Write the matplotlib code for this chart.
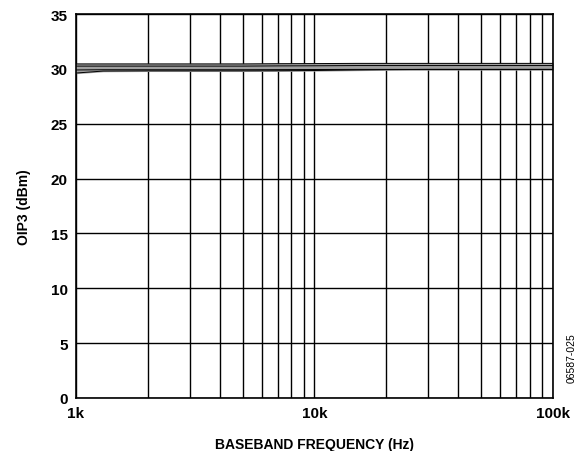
import numpy as np
import matplotlib.pyplot as plt
from matplotlib.ticker import LogLocator, NullFormatter

plt.rcParams['font.family'] = ['Liberation Sans', 'DejaVu Sans']

# Data
freq = [1e3, 1.3e3, 2e3, 3e3, 5e3, 7e3, 10e3, 15e3, 20e3, 30e3, 50e3, 100e3]
oip3_a = [30.45, 30.45, 30.45, 30.45, 30.45, 30.47, 30.48, 30.5, 30.5, 30.5, 30.5, 30.5]
oip3_b = [30.25, 30.25, 30.25, 30.25, 30.25, 30.27, 30.28, 30.3, 30.3, 30.3, 30.3, 30.3]
oip3_c = [29.9, 29.92, 29.92, 29.92, 29.92, 29.93, 29.94, 29.95, 29.95, 29.95, 29.95, 29.95]
oip3_d = [29.62, 29.8, 29.82, 29.82, 29.82, 29.83, 29.85, 29.9, 29.93, 29.95, 29.95, 29.95]

yticks = [0, 5, 10, 15, 20, 25, 30, 35]
xticks = [1e3, 1e4, 1e5]
xticklabels = ['1k', '10k', '100k']

fig = plt.figure(figsize=(5.82, 4.52), dpi=100)
ax = fig.add_axes([0.1306, 0.1173, 0.8194, 0.8495])

curves = np.array([oip3_a, oip3_b, oip3_c, oip3_d])
ax.fill_between(freq, curves.min(axis=0), curves.max(axis=0), color='#a0a0a0', zorder=2)
for c in curves:
    ax.plot(freq, c, color='black', lw=0.7, zorder=3)

ax.set_xscale('log')
ax.set_xlim(1e3, 1e5)
ax.set_ylim(0, 35)
ax.set_xticks(xticks)
ax.set_xticklabels(xticklabels)
ax.xaxis.set_minor_locator(LogLocator(base=10, subs=np.arange(2, 10)))
ax.xaxis.set_minor_formatter(NullFormatter())
ax.set_yticks(yticks)

ax.grid(True, which='both', axis='x', color='black', lw=1.0, zorder=1)
ax.grid(True, which='major', axis='y', color='black', lw=1.0, zorder=1)
ax.tick_params(which='both', length=0, pad=6, labelsize=11)
for lbl in ax.get_xticklabels() + ax.get_yticklabels():
    lbl.set_fontweight('bold')
for s in ax.spines.values():
    s.set_linewidth(1.2)

ax.set_xlabel('BASEBAND FREQUENCY (Hz)', fontsize=10, fontweight='bold', labelpad=12)
ax.set_ylabel('OIP3 (dBm)', fontsize=10, fontweight='bold', labelpad=14)

fig.text(0.982, 0.208, '06587-025', rotation=90, fontsize=7.5,
         ha='center', va='center')

fig.savefig('out.png', dpi=100)
